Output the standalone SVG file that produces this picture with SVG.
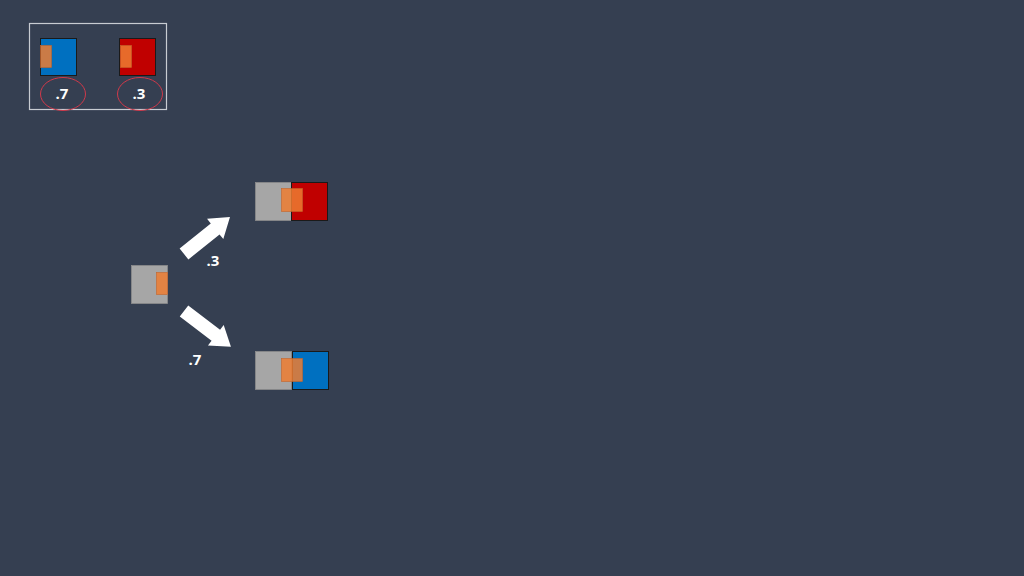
<svg xmlns="http://www.w3.org/2000/svg" width="1024" height="576" viewBox="0 0 1024 576">
<defs>
<style>
.sq{stroke:#1a1a1a;stroke-width:1}
.gray{fill:#A6A6A6;stroke:#8c8c8c;stroke-width:0.8}
.blue{fill:#0070C0}
.red{fill:#C00000}
.or{fill:#ED7D31;fill-opacity:0.85;stroke:#C5652A;stroke-width:0.6}
.lbl{font-family:"Open Sans","Liberation Sans",Arial,sans-serif;font-size:15px;font-weight:bold;fill:#ffffff;text-anchor:middle}
.arrow{fill:#ffffff}
</style>
<polygon id="arr" points="0,-7 40,-7 40,-13 59,0 40,13 40,7 0,7"/>
</defs>
<rect width="1024" height="576" fill="#353F51"/>
<g id="legend">
<rect x="29.5" y="23.5" width="137" height="86" fill="none" stroke="#C8CCD2" stroke-width="1.2"/>
<rect class="sq blue" x="40.5" y="38.5" width="36" height="37"/>
<rect class="or" x="40.5" y="45.5" width="11" height="22"/>
<rect class="sq red" x="119.5" y="38.5" width="36" height="37"/>
<rect class="or" x="120.5" y="45.5" width="11" height="22"/>
<ellipse cx="63" cy="94" rx="22.5" ry="16.5" fill="none" stroke="#D0394A" stroke-width="1"/>
<ellipse cx="140" cy="94" rx="22.5" ry="16.5" fill="none" stroke="#D0394A" stroke-width="1"/>
<text class="lbl" x="62" y="99">.7</text>
<text class="lbl" x="139" y="99">.3</text>
</g>
<g id="start">
<rect class="gray" x="131.5" y="265.5" width="36" height="38"/>
<rect class="or" x="156.5" y="272.5" width="11" height="22"/>
</g>
<g id="outcome-red">
<rect class="gray" x="255.5" y="182.5" width="36" height="38"/>
<rect class="sq red" x="291.5" y="182.5" width="36" height="38"/>
<rect class="or" x="281.5" y="188.5" width="21" height="23"/>
</g>
<g id="outcome-blue">
<rect class="gray" x="255.5" y="351.5" width="36" height="38"/>
<rect class="sq blue" x="292.5" y="351.5" width="36" height="38"/>
<rect class="or" x="281.5" y="358.5" width="21" height="23"/>
</g>
<g id="connectors">
<use href="#arr" class="arrow" transform="translate(184,254) rotate(-38.8)"/>
<use href="#arr" class="arrow" transform="translate(184,311) rotate(37.3)"/>
<text class="lbl" x="213" y="266">.3</text>
<text class="lbl" x="195" y="365">.7</text>
</g>
</svg>
